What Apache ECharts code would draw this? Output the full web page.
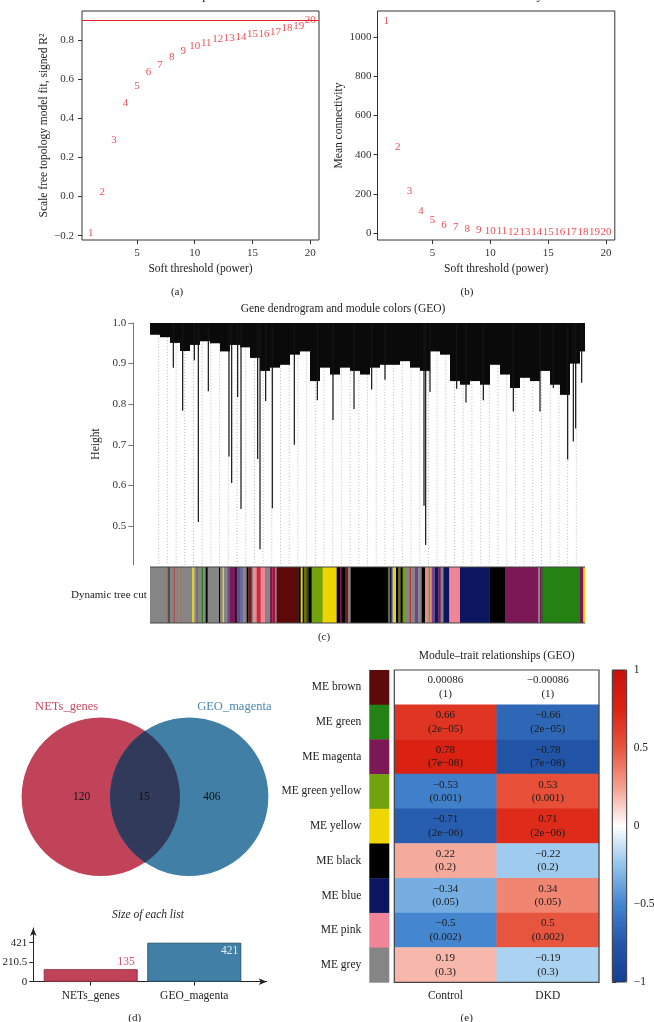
<!DOCTYPE html>
<html><head><meta charset="utf-8">
<script src="https://cdn.jsdelivr.net/npm/echarts@6/dist/echarts.min.js"></script>
<style>html,body{margin:0;padding:0;background:#fff}#c{width:654px;height:1022px}</style>
</head><body><div id="c"></div>
<script>
// ---------- (a)/(b) soft threshold ----------
const powers = [1,2,3,4,5,6,7,8,9,10,11,12,13,14,15,16,17,18,19,20];
const scaleFitR2 = [-0.185,0.021,0.29,0.475,0.565,0.638,0.671,0.71,0.744,0.771,0.783,0.803,0.808,0.815,0.829,0.829,0.841,0.86,0.871,0.904];
const meanConnectivity = [1083,441,215,114,66,42,32,19,15,12,9,7,6,5,4,4,3,3,2,2];
const r2Cutoff = 0.9;
const r2Ticks = [-0.2,0,0.2,0.4,0.6,0.8];
const kTicks = [0,200,400,600,800,1000];
const powerTicks = [5,10,15,20];

// ---------- (c) dendrogram ----------
const dendroSlot = 30; // leaves per slot
const massFloor = [0.971,0.965,0.951,0.931,0.946,0.955,0.95,0.93,0.946,0.94,0.914,0.882,0.89,0.897,0.922,0.93,0.857,0.89,0.873,0.89,0.882,0.873,0.89,0.897,0.897,0.906,0.89,0.882,0.93,0.922,0.857,0.848,0.857,0.848,0.897,0.873,0.84,0.865,0.857,0.882,0.848,0.823,0.9,0.93];
const spikeLeaf = [70,98,133,145,175,237,245,263,273,323,330,347,367,433,502,549,612,665,705,822,827,840,920,948,1000,1090,1170,1210,1253,1270,1277,1295];
const spikeHeight = [0.89,0.784,0.908,0.51,0.832,0.671,0.606,0.818,0.542,0.665,0.443,0.808,0.544,0.70,0.81,0.761,0.788,0.836,0.86,0.55,0.453,0.83,0.838,0.804,0.81,0.782,0.782,0.84,0.664,0.708,0.74,0.853];
const heightTicks = [0.5,0.6,0.7,0.8,0.9,1.0];
const guideCount = 50;

const modulePalette = {
  grey:'#858585', brown:'#5e0909', green:'#248212', magenta:'#7b1855', greenyellow:'#73a30c',
  yellow:'#ecd500', black:'#000000', blue:'#0c1660', pink:'#f08597', red:'#c3303c',
  purple:'#6a4a8a', salmon:'#b0664a', darkgrey:'#4f4f4f', slate:'#6a6aa0', darkred:'#6e1c1c',
  crimson:'#a8103c', olive:'#6b6b1e', darkgreen:'#1f4a1f'
};
const treeCutColors = ['grey','salmon','darkgrey','grey','red','grey','salmon','grey','yellow','grey','purple','grey','green','grey','black','grey','black','grey','yellow','grey','purple','magenta','black','purple','slate','grey','black','darkred','grey','pink','red','pink','grey','magenta','crimson','grey','brown','black','yellow','black','olive','darkgreen','black','greenyellow','yellow','black','magenta','black','darkred','grey','black','olive','blue','grey','yellow','black','olive','black','greenyellow','grey','red','grey','purple','grey','black','pink','greenyellow','pink','purple','blue','magenta','grey','blue','pink','blue','black','magenta','grey','magenta','darkgreen','green','magenta','yellow'];
const treeCutWidths = [50,4,6,10,4,14,4,35,6,7,3,12,5,7,6,34,3,8,4,10,8,15,5,10,10,10,5,10,5,10,12,13,15,7,8,5,65,7,6,4,8,5,10,33,42,10,5,10,10,7,113,5,5,5,8,7,7,6,10,10,6,11,10,10,10,10,5,5,10,10,7,8,18,32,88,47,100,5,4,4,110,12,5];

// ---------- (d) venn ----------
const vennNames = ['NETs_genes','GEO_magenta'];
const vennOnly = [120, 406];
const vennShared = 15;
const listSizes = [135, 421];
const listTicks = [0, 210.5, 421];

// ---------- (e) module-trait ----------
const moduleRows = ['ME brown','ME green','ME magenta','ME green yellow','ME yellow','ME black','ME blue','ME pink','ME grey'];
const moduleSwatch = ['#5c0a0a','#248212','#7b1855','#72a30d','#eed600','#000000','#0c1660','#f08597','#858585'];
const traits = ['Control','DKD'];
const corControl = [0.00086,0.66,0.78,-0.53,-0.71,0.22,-0.34,-0.5,0.19];
const corDKD = [-0.00086,-0.66,-0.78,0.53,0.71,-0.22,0.34,0.5,-0.19];
const corP = ['1','2e−05','7e−08','0.001','2e−06','0.2','0.05','0.002','0.3'];

// ================= build =================
const SERIF = "'Liberation Serif','DejaVu Serif',serif";
const RED = '#e8202a';
const minus = s => String(s).replace('-', '\u2212');
const N_LEAVES = treeCutWidths.reduce((a,b)=>a+b,0);
const floorAt = leaf => massFloor[Math.min(Math.floor(leaf/dendroSlot), massFloor.length-1)];
const DENDRO_MIN = 0.404;

const chart = echarts.init(document.getElementById('c'), null, {renderer:'canvas', width:654, height:1022});

const txt = (x,y,text,o) => Object.assign({type:'text', x, y, silent:true, z:50,
  style:Object.assign({text, font:'11.5px '+SERIF, fill:'#222', align:'center', verticalAlign:'middle'}, (o||{}))});
const G = o => Object.assign({outerBoundsMode:'none', containLabel:false}, o);

function valAxis(grid, min, max, ticks, fmt, margin, extra) {
  return Object.assign({
    gridIndex: grid, type:'value', min, max, splitLine:{show:false},
    axisLine:{show:false, onZero:false},
    axisTick:{show:true, customValues:ticks, length:4, lineStyle:{color:'#333'}},
    axisLabel:{show:true, customValues:ticks, formatter:fmt, fontSize:11, color:'#333', margin, fontFamily:SERIF},
    nameTextStyle:{fontSize:11.5, color:'#222', fontFamily:SERIF}
  }, extra||{});
}
const hidden = (grid, min, max) => ({gridIndex:grid, type:'value', min, max, show:false, axisLine:{onZero:false}});

// venn layout constants
const VENN_R = 1, VENN_SEP = 1.116;
const vennColor = ['#c1435a','#427fa6'];
const vennText = ['#c84a62','#4a88b2'];
const vennBorder = ['#9a3045','#2a5878'];
const vennNameDx = [-0.432, 0.57], vennCountDx = [-0.241, 0.288], VENN_NAME_Y = 1.136;

// heatmap data
const heatData = [];
moduleRows.forEach((r,i)=>{ heatData.push([0,i,corControl[i]]); heatData.push([1,i,corDKD[i]]); });

// tree cut segments
let acc = 0;
const treeSegs = treeCutWidths.map((w,i)=>{ const s=[acc, acc+w, i]; acc += w; return s; });
const guides = [];
for (let i=1;i<guideCount;i++) guides.push([i*N_LEAVES/guideCount]);

const option = {
  animation:false,
  textStyle:{fontFamily:SERIF},
  grid:[
    G({left:82, top:11, width:237, height:229, show:true, borderColor:'#333', borderWidth:1, backgroundColor:'transparent'}),
    G({left:377.5, top:11, width:237.3, height:229, show:true, borderColor:'#333', borderWidth:1, backgroundColor:'transparent'}),
    G({left:150, top:323, width:435, height:242}),
    G({left:150, top:567, width:435, height:56}),
    G({left:0, top:700, width:290, height:200}),
    G({left:33.3, top:928, width:233.4, height:53.7}),
    G({left:369.3, top:670, width:20, height:312.3}),
    G({left:394.3, top:670, width:204.7, height:312.3}),
    G({left:612.3, top:670, width:14.4, height:312})
  ],
  xAxis:[
    valAxis(0, 0.24, 20.76, powerTicks, v=>String(v), 8, {name:'Soft threshold (power)', nameLocation:'middle', nameGap:23}),
    valAxis(1, 0.24, 20.76, powerTicks, v=>String(v), 8, {name:'Soft threshold (power)', nameLocation:'middle', nameGap:23}),
    hidden(2, 0, N_LEAVES),
    hidden(3, 0, N_LEAVES),
    hidden(4, -1.273, 2.389),
    {gridIndex:5, type:'value', min:0.446, max:2.699, splitLine:{show:false},
     axisLine:{show:true, onZero:false, symbol:['none','arrow'], symbolSize:[5,8], lineStyle:{color:'#222', width:1}},
     axisTick:{show:true, customValues:[1,2], length:4, lineStyle:{color:'#222'}},
     axisLabel:{show:true, customValues:[1,2], formatter:v=>vennNames[v-1], fontSize:11.5, color:'#222', margin:8, fontFamily:SERIF}},
    hidden(6, 0, 1),
    {gridIndex:7, type:'category', data:traits, axisLine:{show:false}, axisTick:{show:false},
     axisLabel:{fontSize:11.5, color:'#222', margin:8, fontFamily:SERIF}},
    hidden(8, 0, 1)
  ],
  yAxis:[
    valAxis(0, -0.222, 0.948, r2Ticks, v=>minus(v.toFixed(1)), 8, {name:'Scale free topology model fit, signed R\u00B2', nameLocation:'middle', nameGap:27}),
    valAxis(1, -35.8, 1134.4, kTicks, v=>String(v), 6, {name:'Mean connectivity', nameLocation:'middle', nameGap:33}),
    {gridIndex:2, type:'value', min:DENDRO_MIN, max:1.0, offset:16.7, splitLine:{show:false},
     axisLine:{show:true, onZero:false, lineStyle:{color:'#777'}},
     axisTick:{show:true, customValues:heightTicks, length:5, lineStyle:{color:'#777'}},
     axisLabel:{show:true, customValues:heightTicks, formatter:v=>v.toFixed(1), fontSize:11, color:'#333', margin:7, fontFamily:SERIF},
     name:'Height', nameLocation:'middle', nameGap:30, nameTextStyle:{fontSize:11.5, color:'#222', fontFamily:SERIF}},
    hidden(3, 0, 1),
    hidden(4, -1.304, 1.221),
    {gridIndex:5, type:'value', min:0, max:579.7, splitLine:{show:false},
     axisLine:{show:true, onZero:false, symbol:['none','arrow'], symbolSize:[5,8], lineStyle:{color:'#222', width:1}},
     axisTick:{show:true, customValues:listTicks, length:4, lineStyle:{color:'#222'}},
     axisLabel:{show:true, customValues:listTicks, formatter:v=>String(v), fontSize:11, color:'#222', margin:6, fontFamily:SERIF}},
    {gridIndex:6, type:'category', data:moduleRows, inverse:true, axisLine:{show:false}, axisTick:{show:false},
     axisLabel:{fontSize:11.5, color:'#222', margin:8, fontFamily:SERIF}},
    {gridIndex:7, type:'category', data:moduleRows, inverse:true, show:false},
    {gridIndex:8, type:'value', min:-1, max:1, interval:0.5, position:'right', splitLine:{show:false},
     axisLine:{show:false}, axisTick:{show:true, length:4, lineStyle:{color:'#333'}},
     axisLabel:{show:true, formatter:v=>minus(v), fontSize:11.5, color:'#222', margin:7, fontFamily:SERIF}}
  ],
  visualMap:{
    type:'continuous', seriesIndex:9, dimension:2, min:-1, max:1, calculable:false, realtime:false,
    left:612.3, top:670, itemWidth:14.4, itemHeight:312, padding:0, text:null, showLabel:false, hoverLink:false,
    inRange:{color:['#153e93','#2356aa','#4486cf','#92c4ec','#ffffff','#f4a08f','#e8553e','#dc2313','#c8120b']}
  },
  series:[
    {type:'scatter', xAxisIndex:0, yAxisIndex:0, symbolSize:1, itemStyle:{color:'transparent'}, silent:true,
     data:powers.map((p,i)=>[p, scaleFitR2[i]]),
     label:{show:true, position:'inside', formatter:p=>p.value[0], color:RED, fontSize:11, fontFamily:SERIF},
     markLine:{silent:true, symbol:['none','none'], label:{show:false}, lineStyle:{color:RED, width:1, type:'solid'}, data:[{yAxis:r2Cutoff}]}},
    {type:'scatter', xAxisIndex:1, yAxisIndex:1, symbolSize:1, itemStyle:{color:'transparent'}, silent:true,
     data:powers.map((p,i)=>[p, meanConnectivity[i]]),
     label:{show:true, position:'inside', formatter:p=>p.value[0], color:RED, fontSize:11, fontFamily:SERIF}},
    {type:'custom', xAxisIndex:2, yAxisIndex:2, silent:true, z:1, data:guides,
     renderItem:(params, api)=>{ const x=api.value(0); const a=api.coord([x, floorAt(x)]); const b=api.coord([x, DENDRO_MIN]);
       return {type:'line', shape:{x1:a[0], y1:a[1], x2:b[0], y2:b[1]}, style:{stroke:'#a8a8a8', lineWidth:0.8, lineDash:[1,2]}}; }},
    {type:'custom', xAxisIndex:2, yAxisIndex:2, silent:true, z:2,
     data:massFloor.map((h,k)=>[k*dendroSlot, Math.min((k+1)*dendroSlot, N_LEAVES), h]),
     renderItem:(params, api)=>{ const p0=api.coord([api.value(0), 1.0]); const p1=api.coord([api.value(1), api.value(2)]);
       return {type:'rect', shape:{x:p0[0], y:p0[1], width:p1[0]-p0[0], height:p1[1]-p0[1]}, style:{fill:'#0a0a0a'}}; }},
    {type:'custom', xAxisIndex:2, yAxisIndex:2, silent:true, z:3,
     data:spikeLeaf.map((l,i)=>[l, spikeHeight[i]]),
     renderItem:(params, api)=>{ const x=api.value(0); const a=api.coord([x, 1.0]); const b=api.coord([x, api.value(1)]);
       return {type:'line', shape:{x1:a[0], y1:a[1], x2:b[0], y2:b[1]}, style:{stroke:'#151515', lineWidth:1.2}}; }},
    {type:'custom', xAxisIndex:3, yAxisIndex:3, silent:true, data:treeSegs,
     renderItem:(params, api)=>{ const p0=api.coord([api.value(0), 1]); const p1=api.coord([api.value(1), 0]);
       return {type:'rect', shape:{x:p0[0], y:p0[1], width:p1[0]-p0[0]+0.3, height:p1[1]-p0[1]}, style:{fill:modulePalette[treeCutColors[api.value(2)]]}}; }},
    {type:'custom', xAxisIndex:4, yAxisIndex:4, silent:true, data:vennNames.map((n,i)=>[i*VENN_SEP, 0, i]),
     renderItem:(params, api)=>{ const i=api.value(2); const cx=api.value(0); const c=api.coord([cx,0]); const r=api.size([VENN_R,0])[0];
       const nm=api.coord([cx+vennNameDx[i], VENN_NAME_Y]); const ct=api.coord([cx+vennCountDx[i], 0]);
       return {type:'group', children:[
         {type:'circle', shape:{cx:c[0], cy:c[1], r}, style:{fill:vennColor[i]}},
         {type:'text', x:nm[0], y:nm[1], style:{text:vennNames[i], fill:vennText[i], font:'12.5px '+SERIF, align:'center', verticalAlign:'middle'}},
         {type:'text', x:ct[0], y:ct[1], z2:10, style:{text:String(vennOnly[i]), fill:'#111', font:'11.5px '+SERIF, align:'center', verticalAlign:'middle'}}
       ]}; }},
    {type:'custom', xAxisIndex:4, yAxisIndex:4, silent:true, z:3, data:[[vennShared]],
     renderItem:(params, api)=>{ const c1=api.coord([0,0]); const c2=api.coord([VENN_SEP,0]); const R=api.size([VENN_R,0])[0];
       const a=(c2[0]-c1[0])/2; const h=Math.sqrt(R*R-a*a); const mx=c1[0]+a;
       const d='M'+mx+' '+(c1[1]-h)+' A'+R+' '+R+' 0 0 1 '+mx+' '+(c1[1]+h)+' A'+R+' '+R+' 0 0 1 '+mx+' '+(c1[1]-h)+' Z';
       return {type:'group', children:[
         {type:'path', shape:{pathData:d}, style:{fill:'#323a5c'}},
         {type:'text', x:mx-1, y:c1[1], style:{text:String(api.value(0)), fill:'#111', font:'11.5px '+SERIF, align:'center', verticalAlign:'middle'}}
       ]}; }},
    {type:'bar', xAxisIndex:5, yAxisIndex:5, barWidth:94, silent:true,
     data:listSizes.map((v,i)=>({value:[i+1, v], itemStyle:{color:vennColor[i], borderColor:vennBorder[i], borderWidth:1},
       label: i===0 ? {show:true, position:['100%',0], align:'right', verticalAlign:'bottom', offset:[-3,-1], color:'#d0506a', fontSize:11.5, fontFamily:SERIF}
                    : {show:true, position:['100%',0], align:'right', verticalAlign:'top', offset:[-3,2], color:'#e6edf3', fontSize:11.5, fontFamily:SERIF}})),
     label:{formatter:p=>String(p.value[1])}},
    {type:'heatmap', xAxisIndex:7, yAxisIndex:7, data:heatData, silent:true,
     label:{show:true, formatter:p=>minus(p.value[2])+'\n('+corP[p.value[1]]+')', color:'#1a1a1a', fontSize:11, lineHeight:13.5, fontFamily:SERIF},
     itemStyle:{borderWidth:0}},
    {type:'custom', xAxisIndex:6, yAxisIndex:6, silent:true, data:moduleRows.map((r,i)=>[0,i]),
     renderItem:(params, api)=>{ const i=api.value(1); const c0=api.coord([0,i]); const c1=api.coord([1,i]); const bh=api.size([0,1])[1];
       return {type:'rect', shape:{x:c0[0], y:c0[1]-bh/2, width:c1[0]-c0[0], height:bh+0.4}, style:{fill:moduleSwatch[i]}}; }}
  ],
  graphic:[
    txt(200, 2.5, 'Scale independence', {verticalAlign:'bottom', font:'12.5px '+SERIF}),
    txt(496, 2.5, 'Mean connectivity', {verticalAlign:'bottom', font:'12.5px '+SERIF}),
    txt(177, 292, '(a)', {font:'11px '+SERIF}),
    txt(467, 292, '(b)', {font:'11px '+SERIF}),
    txt(343, 309, 'Gene dendrogram and module colors (GEO)'),
    txt(146.7, 595, 'Dynamic tree cut', {align:'right', font:'11px '+SERIF}),
    {type:'line', silent:true, z:50, shape:{x1:150, y1:567, x2:585, y2:567}, style:{stroke:'#444', lineWidth:1}},
    {type:'line', silent:true, z:50, shape:{x1:150, y1:623, x2:585, y2:623}, style:{stroke:'#444', lineWidth:1}},
    txt(324, 637, '(c)', {font:'11px '+SERIF}),
    txt(148, 915, 'Size of each list', {font:'italic 11.5px '+SERIF}),
    txt(134.7, 1018, '(d)', {font:'11px '+SERIF}),
    txt(496.7, 656, 'Module\u2013trait relationships (GEO)'),
    {type:'rect', silent:true, z:50, shape:{x:394.3, y:670, width:204.7, height:312.3}, style:{fill:'none', stroke:'#444', lineWidth:1.2}},
    {type:'rect', silent:true, z:50, shape:{x:612.3, y:670, width:14.4, height:312}, style:{fill:'none', stroke:'#333', lineWidth:1}},
    txt(466.7, 1018, '(e)', {font:'11px '+SERIF})
  ]
};
chart.setOption(option);
</script></body></html>
